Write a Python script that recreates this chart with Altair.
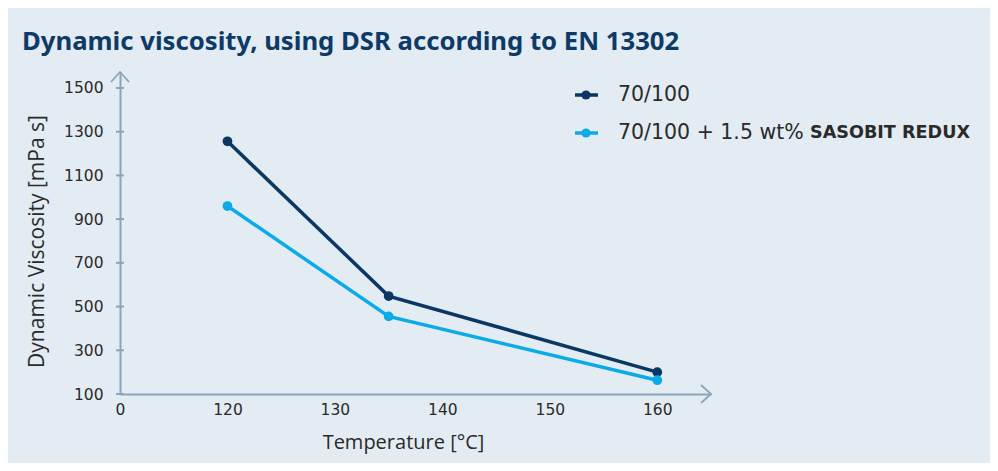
import altair as alt
import pandas as pd

# ---- data ----
temperature = [120, 135, 160]
visc_base = [1256, 548, 200]
visc_sasobit = [960, 455, 163]
series_names = ["70/100", "70/100 + 1.5 wt% SASOBIT REDUX"]
series_colors = ["#0b3763", "#0aabe6"]
y_ticks = [100, 300, 500, 700, 900, 1100, 1300, 1500]
x_ticks = [110, 120, 130, 140, 150, 160]

BG = "#e3ecf2"
AX = "#8aa4bb"
TXT = "#2a2a2a"
TITLE_C = "#0d3a66"

df = pd.DataFrame({
    "t": temperature * 2,
    "v": visc_base + visc_sasobit,
    "s": [series_names[0]] * 3 + [series_names[1]] * 3,
})

xs = alt.Scale(domain=[110, 165], nice=False, zero=False)
ys = alt.Scale(domain=[100, 1573], nice=False, zero=False)
cs = alt.Scale(domain=series_names, range=series_colors)

xaxis = alt.Axis(values=x_ticks, labelExpr="datum.value == 110 ? '0' : datum.label",
                 ticks=False, grid=False, domainColor=AX, domainWidth=2, labelFlush=False,
                 labelFont="DejaVu Sans", labelFontSize=15.5, labelColor=TXT, labelPadding=8,
                 title="Temperature [°C]", titleFont="Open Sans", titleFontSize=20,
                 titleFontWeight="normal", titleColor=TXT, titleX=283, titleY=48,
                 titleBaseline="middle", titleAnchor="start", titleAlign="center")
yaxis = alt.Axis(values=y_ticks, format="d", ticks=False, grid=False, domainColor=AX, domainWidth=2,
                 labelFlush=False,
                 labelFont="DejaVu Sans", labelFontSize=15.5, labelColor=TXT, labelPadding=17,
                 title="Dynamic Viscosity [mPa s]", titleFont="Open Sans", titleFontSize=21,
                 titleFontWeight="normal", titleColor=TXT, titleX=-83, titleY=169,
                 titleAngle=270, titleAlign="center", titleBaseline="middle")

base = alt.Chart(df)

lines = base.mark_line(strokeWidth=3.5).encode(
    x=alt.X("t:Q", scale=xs, axis=xaxis),
    y=alt.Y("v:Q", scale=ys, axis=yaxis),
    color=alt.Color("s:N", scale=cs, legend=None),
)
points = base.mark_point(filled=True, size=95, opacity=1).encode(
    x=alt.X("t:Q", scale=xs), y=alt.Y("v:Q", scale=ys),
    color=alt.Color("s:N", scale=cs, legend=None),
)

tick_df = pd.DataFrame({"v": y_ticks})
yticks = alt.Chart(tick_df).mark_rule(color=AX, strokeWidth=2).encode(
    y=alt.Y("v:Q", scale=ys), x=alt.value(-4), x2=alt.value(4)
)

arrow_df = pd.DataFrame({"t": [165], "v": [1573], "t0": [110], "v0": [100]})
arrow_x = alt.Chart(arrow_df).mark_point(
    shape="M-1,-0.9L0,0L-1,0.9", size=400, filled=False, color=AX, strokeWidth=1.8, opacity=1
).encode(x=alt.X("t:Q", scale=xs), y=alt.Y("v0:Q", scale=ys))
arrow_y = alt.Chart(arrow_df).mark_point(
    shape="M-0.9,1L0,0L0.9,1", size=400, filled=False, color=AX, strokeWidth=1.8, opacity=1
).encode(x=alt.X("t0:Q", scale=xs), y=alt.Y("v:Q", scale=ys))

title = alt.Chart(pd.DataFrame({"a": [0]})).mark_text(
    text="Dynamic viscosity, using DSR according to EN 13302", align="left", baseline="alphabetic",
    font="Noto Sans", fontSize=25.7, fontWeight="bold", color=TITLE_C
).encode(x=alt.value(-98), y=alt.value(-22))

leg = []
for i, (name, col) in enumerate(zip(series_names, series_colors)):
    yy = 23 + i * 38
    one = pd.DataFrame({"a": [0]})
    leg.append(alt.Chart(one).mark_rule(color=col, strokeWidth=3.5).encode(
        x=alt.value(455), x2=alt.value(478), y=alt.value(yy)))
    leg.append(alt.Chart(one).mark_point(filled=True, size=85, color=col, opacity=1).encode(
        x=alt.value(466), y=alt.value(yy)))

leg_txt_a = alt.Chart(pd.DataFrame({"a": [0]})).mark_text(
    text=series_names[0], align="left", baseline="middle", font="DejaVu Sans",
    fontSize=20.5, color=TXT).encode(x=alt.value(498), y=alt.value(23))
leg_txt_b1 = alt.Chart(pd.DataFrame({"a": [0]})).mark_text(
    text="70/100 + 1.5 wt%", align="left", baseline="middle", font="DejaVu Sans",
    fontSize=20.5, color=TXT).encode(x=alt.value(498), y=alt.value(61))
leg_txt_b2 = alt.Chart(pd.DataFrame({"a": [0]})).mark_text(
    text="SASOBIT REDUX", align="left", baseline="middle", font="DejaVu Sans",
    fontSize=17.6, fontWeight="bold", color=TXT).encode(x=alt.value(690), y=alt.value(61))

chart = alt.layer(
    lines, points, yticks, arrow_x, arrow_y, title, *leg, leg_txt_a, leg_txt_b1, leg_txt_b2
).properties(
    width=591, height=322,
    autosize=alt.AutoSizeParams(type="none"),
    padding={"left": 112, "top": 64, "right": 279, "bottom": 69},
    background=BG,
).configure_view(strokeWidth=0)

chart.save("out.html", embed_options={"renderer": "svg", "actions": False})
